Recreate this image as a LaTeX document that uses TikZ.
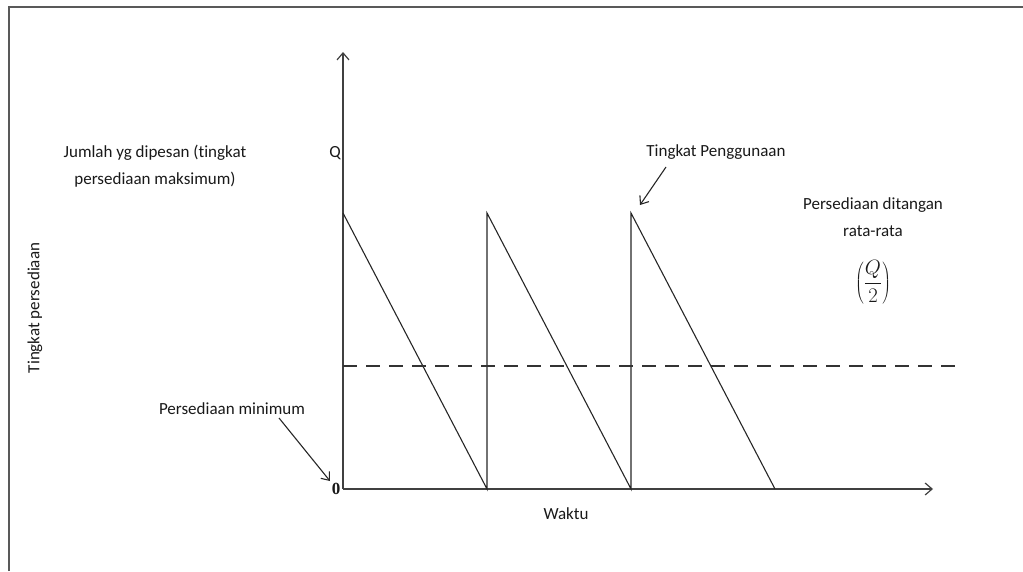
\documentclass[tikz,border=0pt]{standalone}
\usepackage{fontspec}
\setmainfont{Carlito}[Ligatures={NoCommon}]
\newfontfamily\zerofont{Liberation Serif}
\usetikzlibrary{arrows.meta}
\begin{document}
\begin{tikzpicture}[x=1pt,y=-1pt,
  lbl/.style={font=\fontsize{17}{27}\selectfont, text=black!90, inner sep=0pt, align=center},
  axis/.style={draw=black!75, line width=1.5pt, -{Straight Barb[length=7pt,width=12pt,line width=1.2pt]}},
  saw/.style={draw=black!85, line width=1.1pt},
  pointer/.style={draw=black!85, line width=1.1pt, -{Straight Barb[length=7pt,width=11pt,line width=1.1pt]}},
  avg/.style={draw=black!80, line width=1.2pt, dash pattern=on 14pt off 9pt}]
\useasboundingbox (0,0) rectangle (1023,571);
% frame
\draw[draw=black!65, line width=2pt] (9,571) -- (9,7) -- (1023,7);
% coordinates
\coordinate (O) at (343,489);
\coordinate (ytip) at (343,52);
\coordinate (xtip) at (933,489);
\coordinate (p1) at (343,213);
\coordinate (b1) at (487,489);
\coordinate (p2) at (487,213);
\coordinate (b2) at (631,489);
\coordinate (p3) at (631,213);
\coordinate (b3) at (775,489);
\coordinate (dl) at (343,366);
\coordinate (dr) at (963,366);
% axes
\draw[axis] (O) -- (ytip);
\draw[axis] (O) -- (xtip);
% sawtooth
\draw[saw] (p1) -- (b1) -- (p2) -- (b2) -- (p3) -- (b3);
% average line
\draw[avg] (dl) -- (dr);
% labels
\node[lbl] (q) at (335,153) {Q};
\node[lbl, font=\fontsize{17}{27}\selectfont\zerofont\bfseries] (zero) at (336,489) {0};
\node[lbl] (jumlah) at (155,166) {Jumlah yg dipesan (tingkat\\persediaan maksimum)};
\node[lbl, rotate=90] (ylab) at (35,308) {Tingkat persediaan};
\node[lbl] (pmin) at (232,409) {Persediaan minimum};
\node[lbl] (tpg) at (716,152) {Tingkat Penggunaan};
\node[lbl] (pdr) at (873,217) {Persediaan ditangan\\rata-rata};
\node[lbl, font=\fontsize{22}{27}\selectfont] (q2) at (873,282) {$\displaystyle\left(\frac{Q}{2}\right)$};
\node[lbl] (waktu) at (566,514) {Waktu};
% pointers
\coordinate (pminA) at (279,418);
\coordinate (pminB) at (330,481);
\coordinate (tpgA) at (666,167);
\coordinate (tpgB) at (640,205);
\draw[pointer] (pminA) -- (pminB);
\draw[pointer] (tpgA) -- (tpgB);
\end{tikzpicture}
\end{document}
